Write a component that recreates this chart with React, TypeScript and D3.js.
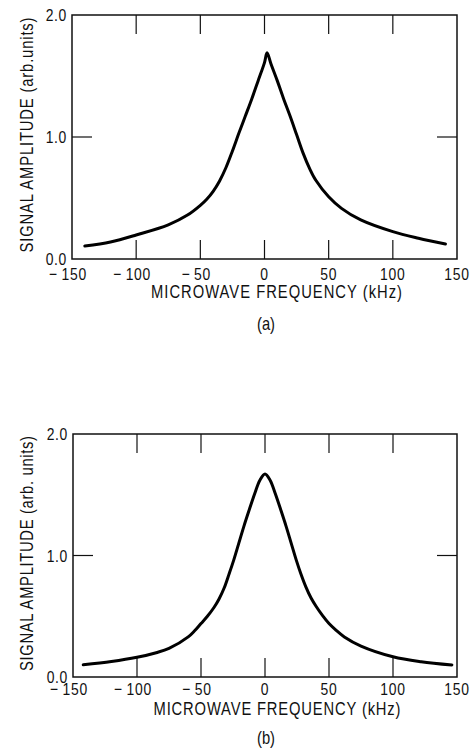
import React from 'react';
import * as d3 from 'd3';

// panel (a): frequency (kHz) and signal amplitude (arb. units)
const freqA = [-140, -120, -100, -75, -60, -50, -45, -40, -35, -30, -25, -20, -15, -10, -5, 0, 2, 5, 10, 15, 20, 25, 30, 35, 40, 50, 60, 75, 100, 120, 141];
const ampA = [0.107, 0.14, 0.197, 0.28, 0.36, 0.44, 0.49, 0.555, 0.64, 0.75, 0.885, 1.03, 1.17, 1.31, 1.46, 1.61, 1.69, 1.6, 1.46, 1.31, 1.17, 1.02, 0.87, 0.745, 0.645, 0.51, 0.415, 0.32, 0.224, 0.17, 0.123];

// panel (b)
const freqB = [-142, -120, -100, -85, -75, -60, -55, -50, -45, -40, -36, -32, -28, -24.5, -20.5, -16.5, -12.5, -8, -4, 0, 4, 8, 12.5, 16.5, 20.5, 24.5, 28, 32, 36, 40, 45, 50, 55, 62, 75, 100, 122, 146];
const ampB = [0.1, 0.127, 0.162, 0.2, 0.235, 0.33, 0.38, 0.44, 0.5, 0.57, 0.64, 0.73, 0.85, 0.96, 1.1, 1.24, 1.37, 1.51, 1.62, 1.67, 1.62, 1.51, 1.37, 1.24, 1.1, 0.96, 0.85, 0.74, 0.65, 0.58, 0.505, 0.44, 0.39, 0.33, 0.255, 0.167, 0.126, 0.099];

const xTickValues = [-150, -100, -50, 0, 50, 100, 150];
const xInnerTicks = [-100, -50, 0, 50, 100];
const yTickValues = [0, 1, 2];
const yInnerTicks = [1];

const xTitle = 'MICROWAVE FREQUENCY (kHz)';
const yTitleA = 'SIGNAL AMPLITUDE (arb.units)';
const yTitleB = 'SIGNAL AMPLITUDE (arb. units)';

const FONT = '"Liberation Sans", Arial, sans-serif';
const SX = 0.82; // horizontal squeeze to mimic the condensed face

const fmtX = (v: number) => (v < 0 ? '\u2212\u2009' + Math.abs(v) : String(v));

type NTextProps = {
  x: number;
  y: number;
  size: number;
  anchor?: string;
  dy?: string;
  rotate?: number;
  width?: number;
  spacing?: number;
  children: React.ReactNode;
};

// condensed text: scale along the reading direction
const NText = ({ x, y, size, anchor = 'middle', dy, rotate = 0, width, spacing, children }: NTextProps) => (
  <text
    transform={`translate(${x},${y}) rotate(${rotate}) scale(${SX},1)`}
    textAnchor={anchor}
    fontSize={size}
    dy={dy}
    letterSpacing={spacing}
    textLength={width ? width / SX : undefined}
    lengthAdjust={width ? 'spacing' : undefined}
  >
    {children}
  </text>
);

type PanelProps = {
  freq: number[];
  amp: number[];
  left: number;
  right: number;
  top: number;
  bottom: number;
  yTitle: string;
  caption: string;
  xTitleLen: number;
  labelGap: number;
  titleGap: number;
  captionGap: number;
};

const Panel = (p: PanelProps) => {
  const { freq, amp, left, right, top, bottom } = p;
  const x = d3.scaleLinear().domain([-150, 150]).range([left, right]);
  const y = d3.scaleLinear().domain([0, 2]).range([bottom, top]);
  const tick = 19;

  const pts: [number, number][] = freq.map((f, i) => [f, amp[i]]);
  const line = d3
    .line<[number, number]>()
    .x(d => x(d[0]))
    .y(d => y(d[1]))
    .curve(d3.curveCatmullRom.alpha(0.5));

  return (
    <g fontFamily={FONT} fill="#111">
      <rect x={left} y={top} width={right - left} height={bottom - top} fill="none" stroke="#111" strokeWidth={1.5} />
      {xInnerTicks.map(v => (
        <g key={'xt' + v} stroke="#111" strokeWidth={1.2}>
          <line x1={x(v)} x2={x(v)} y1={bottom} y2={bottom - tick} />
          <line x1={x(v)} x2={x(v)} y1={top} y2={top + tick} />
        </g>
      ))}
      {yInnerTicks.map(v => (
        <g key={'yt' + v} stroke="#111" strokeWidth={1.2}>
          <line x1={left} x2={left + 20} y1={y(v)} y2={y(v)} />
          <line x1={right} x2={right - 20} y1={y(v)} y2={y(v)} />
        </g>
      ))}
      {yTickValues.map(v => (
        <NText key={'yl' + v} x={left - 5} y={y(v)} dy="0.36em" anchor="end" size={17} spacing={0.8}>
          {v.toFixed(1)}
        </NText>
      ))}
      {xTickValues.map(v => (
        <NText key={'xl' + v} x={x(v) + (v < 0 ? -4 : 0)} y={bottom + p.labelGap} size={17} spacing={0.9}>
          {fmtX(v)}
        </NText>
      ))}
      <NText x={(left + right) / 2 + 12} y={bottom + p.titleGap} size={18} width={p.xTitleLen}>
        {xTitle}
      </NText>
      <NText x={266} y={bottom + p.captionGap} size={18}>
        {p.caption}
      </NText>
      <NText x={33} y={(top + bottom) / 2 - 2} rotate={-90} size={18} width={235}>
        {p.yTitle}
      </NText>
      <path d={line(pts) || ''} fill="none" stroke="#000" strokeWidth={3} strokeLinejoin="round" strokeLinecap="round" />
    </g>
  );
};

const App = () => (
  <svg width={471} height={756} style={{ position: 'absolute', left: 0, top: 0, background: '#fff' }}>
    <Panel
      freq={freqA}
      amp={ampA}
      left={72}
      right={457}
      top={15}
      bottom={259}
      yTitle={yTitleA}
      caption="(a)"
      xTitleLen={251}
      labelGap={21}
      titleGap={39}
      captionGap={71}
    />
    <Panel
      freq={freqB}
      amp={ampB}
      left={73}
      right={457}
      top={434}
      bottom={677}
      yTitle={yTitleB}
      caption="(b)"
      xTitleLen={247}
      labelGap={18}
      titleGap={38}
      captionGap={67}
    />
  </svg>
);

export default App;
